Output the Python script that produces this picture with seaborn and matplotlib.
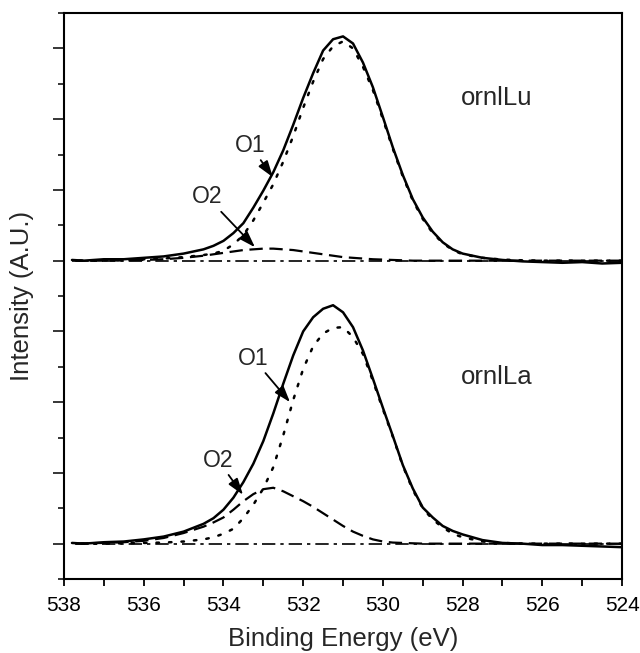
import seaborn as sns
import matplotlib.pyplot as plt
from matplotlib.ticker import MultipleLocator, NullFormatter

# binding energy grid (eV)
energy = [537.8, 537.5, 537.0, 536.5, 536.0, 535.5, 535.0, 534.5, 534.25, 534.0,
          533.75, 533.5, 533.25, 533.0, 532.75, 532.5, 532.25, 532.0, 531.75, 531.5,
          531.25, 531.0, 530.75, 530.5, 530.25, 530.0, 529.75, 529.5, 529.25, 529.0,
          528.75, 528.5, 528.25, 528.0, 527.5, 527.0, 526.5, 526.0, 525.5, 525.0,
          524.5, 524.0]

# ornlLu (upper spectrum), heights above its baseline
lu_data = [0.01, 0.00, 0.02, 0.02, 0.04, 0.06, 0.10, 0.16, 0.21, 0.28,
           0.39, 0.53, 0.75, 0.99, 1.25, 1.56, 1.92, 2.30, 2.65, 2.97,
           3.13, 3.17, 3.07, 2.80, 2.45, 2.03, 1.60, 1.21, 0.87, 0.61,
           0.41, 0.26, 0.16, 0.10, 0.04, 0.01, -0.01, -0.02, -0.03, -0.02,
           -0.04, -0.03]
lu_o1 = [0.0, 0.0, 0.005, 0.01, 0.02, 0.03, 0.05, 0.08, 0.10, 0.14,
         0.23, 0.36, 0.57, 0.82, 1.08, 1.40, 1.76, 2.16, 2.53, 2.85,
         3.03, 3.10, 3.00, 2.74, 2.41, 2.00, 1.58, 1.19, 0.85, 0.59,
         0.39, 0.25, 0.15, 0.09, 0.04, 0.015, 0.005, 0.0, 0.0, 0.0,
         0.0, 0.0]
lu_o2 = [0.0, 0.0, 0.0, 0.005, 0.01, 0.02, 0.04, 0.07, 0.09, 0.11,
         0.13, 0.15, 0.16, 0.17, 0.17, 0.16, 0.15, 0.13, 0.11, 0.09,
         0.07, 0.05, 0.04, 0.03, 0.02, 0.015, 0.01, 0.005, 0.0, 0.0,
         0.0, 0.0, 0.0, 0.0, 0.0, 0.0, 0.0, 0.0, 0.0, 0.0,
         0.0, 0.0]

# ornlLa (lower spectrum)
la_data = [0.01, 0.00, 0.02, 0.03, 0.06, 0.10, 0.17, 0.28, 0.36, 0.48,
           0.65, 0.87, 1.13, 1.45, 1.84, 2.26, 2.66, 3.00, 3.20, 3.32,
           3.37, 3.27, 3.06, 2.73, 2.33, 1.92, 1.52, 1.11, 0.78, 0.51,
           0.37, 0.25, 0.18, 0.13, 0.05, 0.01, 0.00, -0.02, -0.02, -0.03,
           -0.04, -0.05]
la_o1 = [0.0, 0.0, 0.0, 0.005, 0.01, 0.015, 0.03, 0.06, 0.09, 0.14,
         0.21, 0.36, 0.55, 0.78, 1.08, 1.53, 2.03, 2.47, 2.79, 2.97,
         3.05, 3.06, 2.92, 2.68, 2.30, 1.90, 1.51, 1.10, 0.76, 0.50,
         0.34, 0.23, 0.14, 0.09, 0.03, 0.01, 0.0, 0.0, 0.0, 0.0,
         0.0, 0.0]
la_o2 = [0.0, 0.005, 0.01, 0.02, 0.04, 0.08, 0.15, 0.24, 0.30, 0.37,
         0.48, 0.60, 0.70, 0.77, 0.79, 0.74, 0.67, 0.60, 0.52, 0.43,
         0.34, 0.25, 0.17, 0.11, 0.06, 0.03, 0.015, 0.01, 0.005, 0.0,
         0.0, 0.0, 0.0, 0.0, 0.0, 0.0, 0.0, 0.0, 0.0, 0.0,
         0.0, 0.0]

baseline = [0.0] * len(energy)
offsets = {'ornlLu': 4.0, 'ornlLa': 0.0}

sns.set_style('ticks')
plt.rcParams['font.family'] = ['Liberation Sans', 'DejaVu Sans']

fig = plt.figure(figsize=(6.4, 6.53), dpi=100)
ax = fig.add_axes([0.1, 0.1133, 0.872, 0.8667])

dotted = (0, (1, 4))
dashed = (0, (6, 3))
dashdot = (0, (8, 3, 2, 3))

for name, data, o1, o2 in [('ornlLu', lu_data, lu_o1, lu_o2),
                           ('ornlLa', la_data, la_o1, la_o2)]:
    off = offsets[name]
    sns.lineplot(x=energy, y=[v + off for v in baseline], color='black',
                 lw=1.2, linestyle=dashdot, ax=ax)
    sns.lineplot(x=energy, y=[v + off for v in o2], color='black',
                 lw=1.6, linestyle=dashed, ax=ax)
    sns.lineplot(x=energy, y=[v + off for v in o1], color='black',
                 lw=1.8, linestyle=dotted, dash_capstyle='round', ax=ax)
    sns.lineplot(x=energy, y=[v + off for v in data], color='black',
                 lw=1.8, ax=ax)

arrow = dict(arrowstyle='-|>,head_length=0.6,head_width=0.2', color='black',
             lw=1.3, shrinkA=0, shrinkB=0)
fs = 16.5
ax.annotate('O1', xy=(532.76, 5.18), xytext=(533.33, 5.63), fontsize=fs,
            ha='center', va='center', arrowprops=arrow)
ax.annotate('O2', xy=(533.21, 4.19), xytext=(534.41, 4.90), fontsize=fs,
            ha='center', va='center', arrowprops=arrow)
ax.annotate('O1', xy=(532.33, 2.0), xytext=(533.26, 2.62), fontsize=fs,
            ha='center', va='center', arrowprops=arrow)
ax.annotate('O2', xy=(533.51, 0.69), xytext=(534.14, 1.18), fontsize=fs,
            ha='center', va='center', arrowprops=arrow)
ax.text(527.14, 6.30, 'ornlLu', fontsize=18.5, ha='center', va='center')
ax.text(527.14, 2.35, 'ornlLa', fontsize=18.5, ha='center', va='center')

ax.set_xlim(538, 524)
ax.set_ylim(-0.5, 7.5)
ax.xaxis.set_major_locator(MultipleLocator(2))
ax.xaxis.set_minor_locator(MultipleLocator(1))
ax.yaxis.set_major_locator(MultipleLocator(1))
ax.yaxis.set_minor_locator(MultipleLocator(0.5))
ax.yaxis.set_major_formatter(NullFormatter())
ax.tick_params(axis='x', which='both', direction='out', length=5, width=1.3,
               labelsize=15, pad=7, colors='black')
ax.tick_params(axis='y', which='major', direction='out', length=8, width=1.3)
ax.tick_params(axis='y', which='minor', direction='out', length=4.3, width=1.3)
for s in ax.spines.values():
    s.set_visible(True)
    s.set_color('black')
    s.set_linewidth(1.5)

ax.set_xlabel('Binding Energy (eV)', fontsize=18.5, labelpad=9)
ax.set_ylabel('Intensity (A.U.)', fontsize=18.5, labelpad=10)

fig.savefig('out.png', dpi=100)
